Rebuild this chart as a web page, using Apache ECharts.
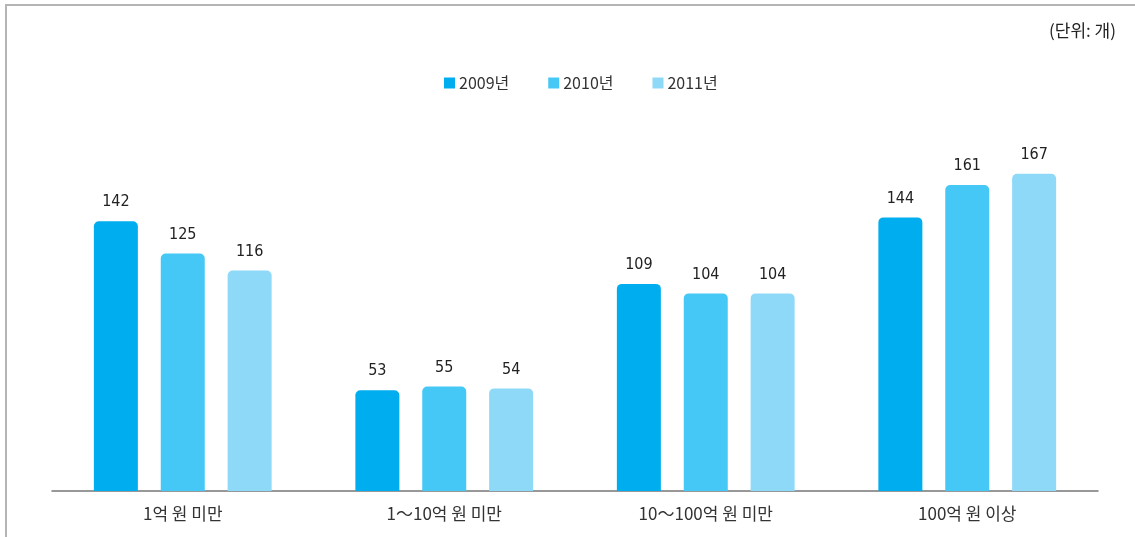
<!DOCTYPE html>
<html><head><meta charset="utf-8">
<script src="https://cdn.jsdelivr.net/npm/echarts@6/dist/echarts.min.js"></script>
<style>
html,body{margin:0;padding:0;background:#fff;}
#frame{position:absolute;left:5px;top:4px;width:1130px;height:533px;border-top:2px solid #b5b5b5;border-left:2px solid #b5b5b5;box-sizing:border-box;}
#c{position:absolute;left:0;top:0;width:1135px;height:537px;}
</style></head>
<body>
<div id="frame"></div>
<div id="c"></div>
<script>
const categories = ['1억 원 미만', '1～10억 원 미만', '10～100억 원 미만', '100억 원 이상'];
const seriesNames = ['2009년', '2010년', '2011년'];
const v2009 = [142, 53, 109, 144];
const v2010 = [125, 55, 104, 161];
const v2011 = [116, 54, 104, 167];
const colors = ['#00AEEF', '#45C8F5', '#8ED8F8'];
const font = "'Noto Sans CJK KR', 'Noto Sans', sans-serif";

const chart = echarts.init(document.getElementById('c'));
const data = [v2009, v2010, v2011];
chart.setOption({
  animation: false,
  textStyle: { fontFamily: font },
  grid: { left: 52, right: 37, top: 16, bottom: 46 },
  title: {
    text: '(단위: 개)', right: 14, top: 17,
    textStyle: { fontFamily: font, fontSize: 17, fontWeight: 'normal', color: '#222' }
  },
  legend: {
    top: 70, left: 439, itemWidth: 11, itemHeight: 11, itemGap: 39,
    icon: 'rect',
    textStyle: { fontFamily: font, fontSize: 16, color: '#333', padding: [0, 0, 0, -1] },
    data: seriesNames
  },
  xAxis: {
    type: 'category', data: categories,
    axisLine: { lineStyle: { color: '#777', width: 1.5 } },
    axisTick: { show: false },
    axisLabel: { fontFamily: font, fontSize: 17, color: '#333', margin: 14 }
  },
  yAxis: { type: 'value', min: 0, max: 250, show: false, splitLine: { show: false } },
  series: seriesNames.map((n, i) => ({
    name: n, type: 'bar', data: data[i], barWidth: 44, barGap: '52%',
    itemStyle: { color: colors[i], borderRadius: [5, 5, 0, 0] },
    label: { show: true, position: 'top', distance: 11, fontFamily: "'DejaVu Sans Condensed', 'Roboto Condensed', Roboto, sans-serif", fontSize: 16, color: '#222' }
  }))
});
</script>
</body></html>
